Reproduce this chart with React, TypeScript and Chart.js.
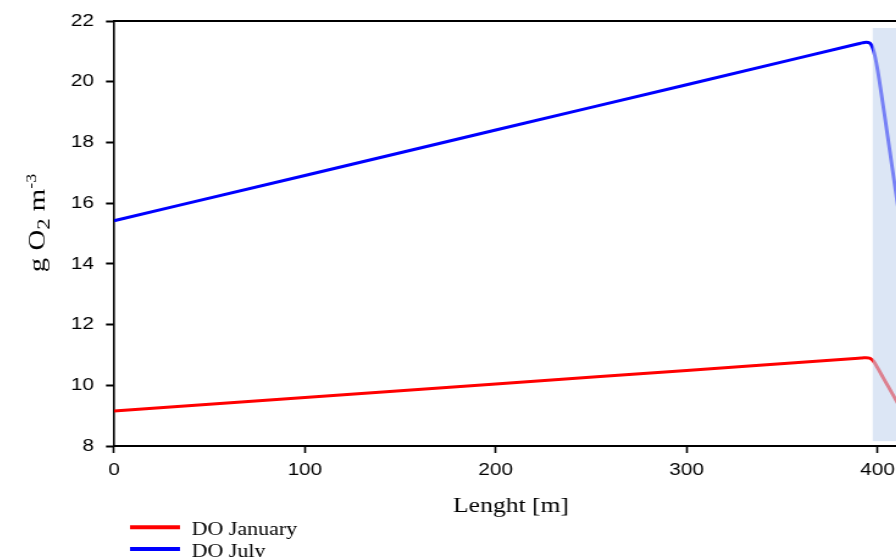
import { useEffect, useRef } from "react";
import { Chart, registerables } from "chart.js";

Chart.register(...registerables);

// Distance along the channel [m] and dissolved oxygen [g O2 m-3]
const lengthM = [0, 100, 200, 300, 390, 392, 394, 396, 398, 400, 402, 404, 406, 408, 410, 412, 414, 416];
const doJanuary = [9.15, 9.6, 10.04, 10.49, 10.89, 10.9, 10.91, 10.89, 10.79, 10.58, 10.36, 10.14, 9.92, 9.7, 9.48, 9.26, 9.04, 8.82];
const doJuly = [15.42, 16.91, 18.41, 19.9, 21.25, 21.28, 21.3, 21.27, 21.02, 20.42, 19.62, 18.78, 17.92, 17.06, 16.2, 15.34, 14.48, 13.62];

const seriesLabels = ["DO January", "DO July"];
const seriesColors = ["#ff0000", "#0000ff"];

const xTicks = [0, 100, 200, 300, 400];
const yTicks = [8, 10, 12, 14, 16, 18, 20, 22];

// Highlighted reach (x range and y range in data units)
const shadeX = [397.5, 416];
const shadeY = [8.16, 21.77];

// Canvas layout (canvas pixels; the canvas is widened horizontally by STRETCH)
const STRETCH = 1.22;
const W = 750;
const H = 549;
const AXIS_LEFT = 86.9;
const AXIS_TOP = 13;
const AXIS_BOTTOM_H = 111;
const RIGHT_PAD = 12.3;

const SANS = '"Liberation Sans", Arial, Helvetica, sans-serif';
const SERIF = '"Liberation Serif", "Times New Roman", Times, serif';

const shadePlugin = {
  id: "shade",
  afterDatasetsDraw(chart: any) {
    const { ctx, chartArea, scales } = chart;
    const x1 = scales.x.getPixelForValue(shadeX[0]);
    const x2 = Math.min(scales.x.getPixelForValue(shadeX[1]), chartArea.right);
    const y1 = scales.y.getPixelForValue(shadeY[1]);
    const y2 = scales.y.getPixelForValue(shadeY[0]);
    ctx.save();
    ctx.fillStyle = "rgba(197, 213, 238, 0.6)";
    ctx.fillRect(x1, y1, x2 - x1, y2 - y1);
    ctx.restore();
  },
};

// Y title with subscript and superscript: g O2 m-3 (drawn without the canvas widening,
// then widened along its own baseline)
const yTitlePlugin = {
  id: "yTitle",
  afterDraw(chart: any) {
    const { ctx } = chart;
    const along = 1.2;
    const parts = [
      { t: "g O", size: 24, dy: 0 },
      { t: "2", size: 19, dy: 6 },
      { t: " m", size: 24, dy: 0 },
      { t: "-3", size: 15, dy: -8 },
    ];
    ctx.save();
    let total = 0;
    for (const p of parts) {
      ctx.font = `${p.size}px ${SERIF}`;
      total += ctx.measureText(p.t).width;
    }
    ctx.scale(1 / STRETCH, 1);
    ctx.translate(36, 215);
    ctx.rotate(-Math.PI / 2);
    ctx.scale(along, 1);
    ctx.fillStyle = "#000";
    ctx.textBaseline = "alphabetic";
    ctx.textAlign = "left";
    let x = -total / 2;
    for (const p of parts) {
      ctx.font = `${p.size}px ${SERIF}`;
      ctx.fillText(p.t, x, p.dy);
      x += ctx.measureText(p.t).width;
    }
    ctx.restore();
  },
};

const legendPlugin = {
  id: "stackedLegend",
  afterDraw(chart: any) {
    const { ctx } = chart;
    const lineY = [519.3, 541];
    const textY = [527, 548.7];
    ctx.save();
    chart.data.datasets.forEach((ds: any, i: number) => {
      ctx.strokeStyle = ds.borderColor;
      ctx.lineWidth = 4;
      ctx.beginPath();
      ctx.moveTo(100, lineY[i]);
      ctx.lineTo(141, lineY[i]);
      ctx.stroke();
      ctx.fillStyle = "#000";
      ctx.font = `18px ${SERIF}`;
      ctx.textBaseline = "alphabetic";
      ctx.fillText(ds.label, 150.6, textY[i]);
    });
    ctx.restore();
  },
};

export default function App() {
  const canvasRef = useRef<HTMLCanvasElement | null>(null);

  useEffect(() => {
    const canvas = canvasRef.current;
    if (!canvas) return;
    const toPoints = (ys: number[]) => lengthM.map((x, i) => ({ x, y: ys[i] }));
    const chart = new Chart(canvas, {
      type: "line",
      data: {
        datasets: [
          {
            label: seriesLabels[0],
            data: toPoints(doJanuary),
            borderColor: seriesColors[0],
            backgroundColor: seriesColors[0],
            borderWidth: 3,
            pointRadius: 0,
            cubicInterpolationMode: "monotone",
            fill: false,
          },
          {
            label: seriesLabels[1],
            data: toPoints(doJuly),
            borderColor: seriesColors[1],
            backgroundColor: seriesColors[1],
            borderWidth: 3,
            pointRadius: 0,
            cubicInterpolationMode: "monotone",
            fill: false,
          },
        ],
      },
      options: {
        responsive: false,
        maintainAspectRatio: false,
        animation: false,
        devicePixelRatio: 1,
        layout: { padding: { left: 0, top: 0, right: RIGHT_PAD, bottom: 0 } },
        plugins: {
          legend: { display: false },
          tooltip: { enabled: false },
          title: { display: false },
        },
        scales: {
          x: {
            type: "linear",
            position: "bottom",
            min: 0,
            max: 416,
            afterBuildTicks: (s: any) => {
              s.ticks = xTicks.map((v) => ({ value: v }));
            },
            afterFit: (s: any) => {
              s.height = AXIS_BOTTOM_H;
              s.paddingLeft = 0;
              s.paddingRight = 0;
            },
            grid: { display: true, drawOnChartArea: false, drawTicks: true, tickLength: 7, tickWidth: 1.6, tickColor: "#000" },
            border: { display: true, color: "#000", width: 2 },
            ticks: { color: "#000", font: { family: SANS, size: 17 }, padding: 7, maxRotation: 0, autoSkip: false },
            title: {
              display: true,
              text: "Lenght [m]",
              color: "#000",
              font: { family: SERIF, size: 21 },
              padding: { top: 0, bottom: 38 },
            },
          },
          xTop: {
            type: "linear",
            position: "top",
            min: 0,
            max: 416,
            ticks: { display: false },
            grid: { display: false, drawTicks: false },
            border: { display: true, color: "#000", width: 2 },
            afterFit: (s: any) => {
              s.height = AXIS_TOP;
              s.paddingLeft = 0;
              s.paddingRight = 0;
            },
          },
          y: {
            type: "linear",
            position: "left",
            min: 8,
            max: 22,
            afterBuildTicks: (s: any) => {
              s.ticks = yTicks.map((v) => ({ value: v }));
            },
            afterFit: (s: any) => {
              s.width = AXIS_LEFT;
              s.paddingTop = 0;
              s.paddingBottom = 0;
            },
            grid: { display: true, drawOnChartArea: false, drawTicks: true, tickLength: 6.6, tickWidth: 2, tickColor: "#000" },
            border: { display: true, color: "#000", width: 1.6 },
            ticks: { color: "#000", font: { family: SANS, size: 17 }, padding: 9.8 },
          },
        },
      },
      plugins: [shadePlugin, yTitlePlugin, legendPlugin],
    } as any);
    return () => chart.destroy();
  }, []);

  return (
    <div
      style={{
        position: "fixed",
        left: 0,
        top: 0,
        width: "100vw",
        height: "100vh",
        overflow: "hidden",
        background: "#fff",
      }}
    >
      <div
        style={{
          position: "absolute",
          left: 8,
          top: 8,
          transform: `scaleX(${STRETCH})`,
          transformOrigin: "0 0",
        }}
      >
        <canvas ref={canvasRef} width={W} height={H} style={{ display: "block" }} />
      </div>
    </div>
  );
}
